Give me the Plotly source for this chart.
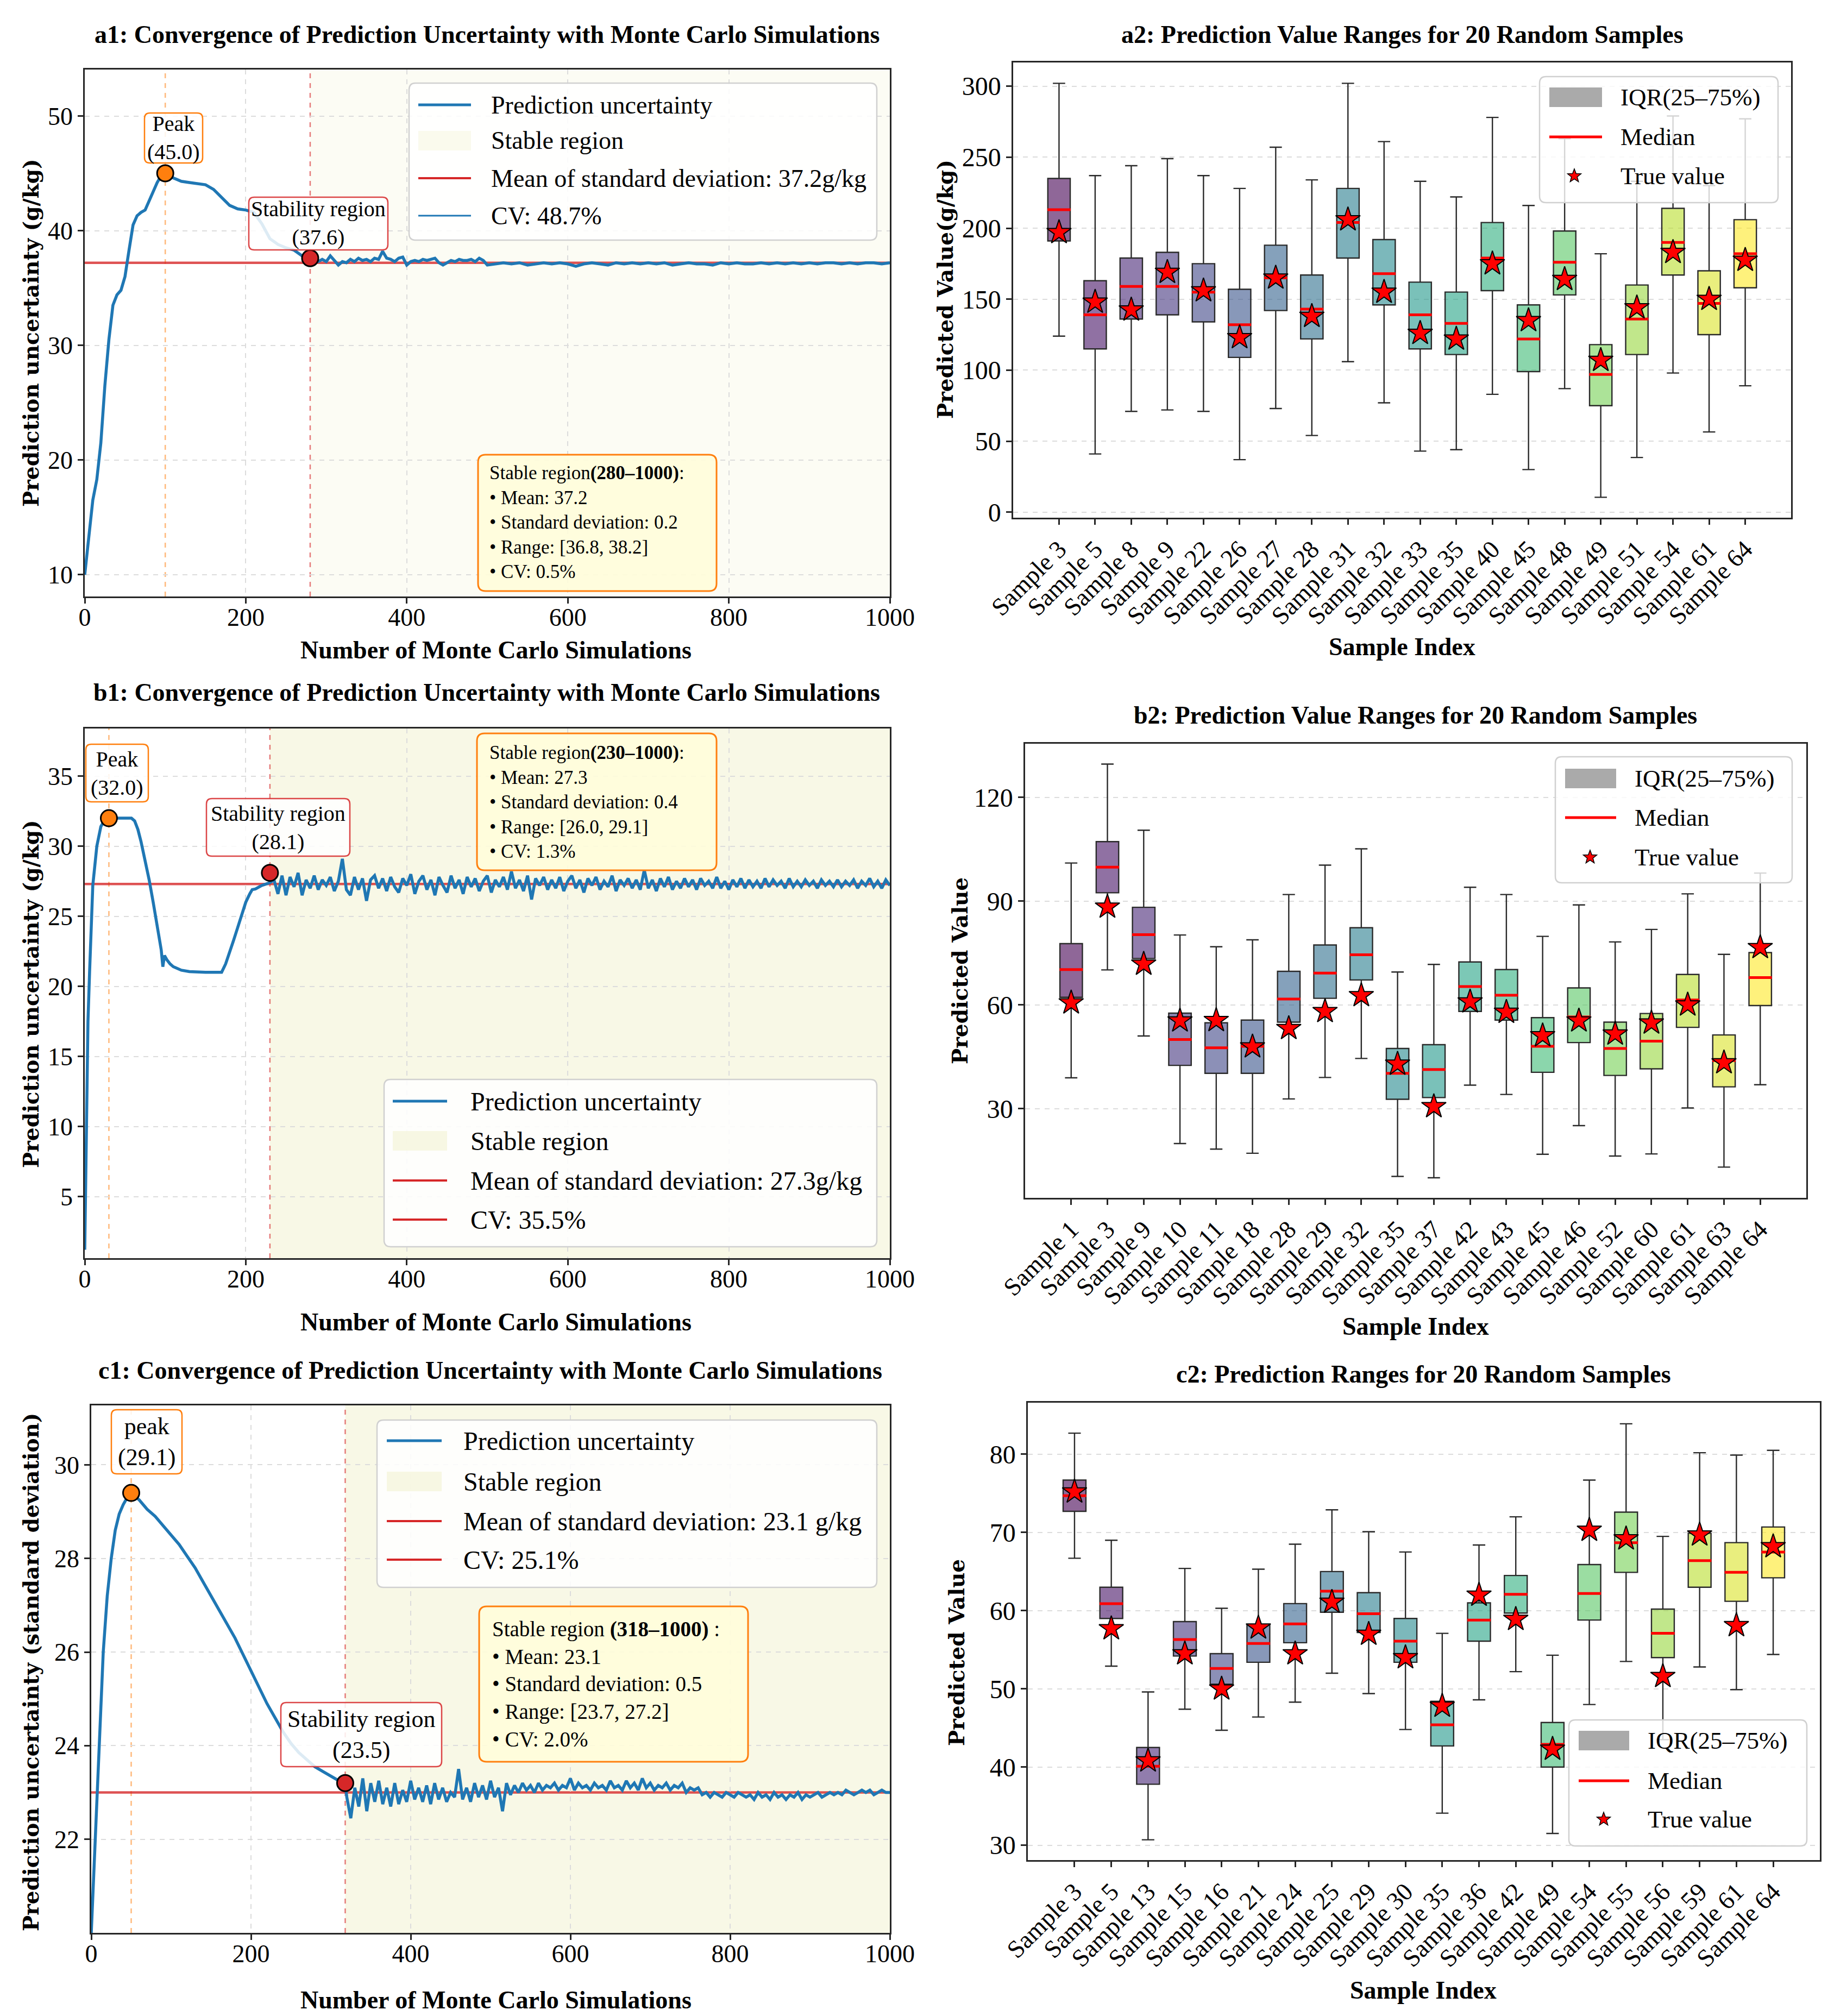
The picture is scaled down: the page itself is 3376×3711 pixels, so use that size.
import numpy as np
import plotly.graph_objects as go
from plotly.colors import sample_colorscale

W, H = 3376, 3711
SERIF = "Liberation Serif"
LABEL = "DejaVu Serif"
BLUE, RED, ORANGE = "#1f77b4", "#d62728", "#ff7f0e"

# ---------------- a1: convergence ----------------
a1_rise_sims = [0, 5, 10, 15, 20, 25, 30, 35, 40, 45, 50, 55, 60, 65, 70, 75, 80, 85, 90, 95,
                100, 110, 120, 130, 140, 150, 160, 170, 180, 190, 200, 210, 220, 230, 240, 250,
                260, 270, 280]
a1_rise_unc = [10.0, 13.5, 16.5, 18.3, 21.5, 26.5, 30.5, 33.5, 34.4, 34.8,
               36.0, 38.3, 40.5, 41.3, 41.6, 41.8, 42.6, 43.4, 44.2, 44.8,
               45.0, 44.6, 44.3, 44.2, 44.1, 44.0, 43.6, 42.9, 42.2, 41.9,
               41.8, 41.6, 40.6, 39.3, 38.8, 38.5, 38.3, 37.8, 37.6]
# every 5 simulations from 285
a1_tail_fine = [37.4, 37.3, 37.5, 37.3, 37.8, 37.4, 37.0, 37.3, 37.2, 37.5,
                37.3, 37.6, 37.4, 37.5, 37.3, 37.6, 37.5, 38.2, 37.6, 37.5,
                37.3, 37.6, 37.7, 37.0, 37.3, 37.4, 37.3, 37.5, 37.4, 37.5,
                37.6, 37.2, 37.0, 37.2, 37.4, 37.3, 37.5, 37.4, 37.4, 37.5,
                37.3, 37.6, 37.4]
# every 10 simulations from 500
a1_tail_coarse = [37.0, 37.1, 37.2, 37.1, 37.2, 37.0, 37.1, 37.2, 37.1, 37.2,
                  37.1, 36.9, 37.1, 37.2, 37.1, 37.0, 37.2, 37.1, 37.2, 37.1,
                  37.2, 37.1, 37.2, 37.0, 37.1, 37.2, 37.1, 37.1, 37.0, 37.2,
                  37.1, 37.2, 37.1, 37.1, 37.2, 37.1, 37.2, 37.1, 37.2, 37.1,
                  37.2, 37.1, 37.2, 37.2, 37.1, 37.2, 37.1, 37.2, 37.2, 37.1, 37.2]
a1_peak = (100, 45.0)
a1_stable = (280, 37.6)
a1_mean = 37.2

# ---------------- b1: convergence ----------------
b1_rise_sims = [0, 2, 4, 6, 8, 10, 15, 20, 25, 30, 40, 50, 58, 62, 66, 70, 75, 80, 85, 90,
                95, 97, 99, 102, 106, 110, 115, 120, 130, 140, 150, 160, 170, 175, 180, 185,
                190, 195, 200, 205, 208, 212, 216, 220, 225, 230]
b1_rise_unc = [1.2, 11.4, 17.5, 21.0, 25.0, 27.2, 30.0, 31.4, 31.9, 32.0,
               32.0, 32.0, 32.0, 31.8, 31.2, 30.3, 29.0, 27.6, 26.0, 24.4,
               22.6, 21.4, 22.2, 21.9, 21.6, 21.4, 21.25, 21.15, 21.05, 21.0,
               21.0, 21.0, 21.0, 21.6, 22.4, 23.3, 24.2, 25.1, 26.0, 26.6,
               26.9, 26.95, 27.1, 27.2, 27.3, 27.4]
# every 5 simulations from 235
b1_tail = [27.6, 26.6, 27.9, 26.5, 27.8, 27.1, 28.1, 26.5, 27.6, 27.0,
           27.9, 26.9, 27.6, 27.2, 27.8, 26.8, 27.5, 29.1, 26.9, 26.5,
           27.8, 26.9, 27.7, 26.1, 27.6, 27.9, 27.0, 27.7, 26.8, 27.8,
           27.1, 26.7, 27.7, 27.2, 28.0, 26.6, 27.5, 27.9, 26.9, 27.6,
           26.5, 27.8, 27.2, 26.7, 27.9, 27.0, 27.6, 26.6, 27.8, 27.1,
           27.7, 26.8, 27.5, 27.9, 26.7, 27.6, 27.1, 27.8, 26.9, 28.2,
           27.0, 27.6, 26.8, 27.9, 26.2, 27.7, 27.2, 27.8, 26.9, 27.6,
           27.0, 27.8, 26.8, 27.5, 27.9, 27.0, 27.6, 26.7, 27.7, 27.2,
           27.8, 26.9, 27.5, 27.1, 27.9, 26.8, 27.6, 27.2, 27.7, 27.0,
           27.6, 26.9, 28.3, 27.0, 27.6, 26.8, 27.7, 27.1, 27.8, 26.9,
           27.5, 27.0, 27.7, 27.1, 27.6, 26.9, 27.7, 27.2, 27.5, 27.0,
           27.8, 27.0, 27.5, 26.9, 27.6, 27.1, 27.7, 27.0, 27.6, 27.1,
           27.5, 27.0, 27.7, 27.1, 27.6, 27.2, 27.5, 27.0, 27.7, 27.1,
           27.5, 27.1, 27.6, 27.2, 27.5, 27.0, 27.6, 27.2, 27.5, 27.1,
           27.6, 27.1, 27.5, 27.2, 27.6, 27.0, 27.5, 27.2, 27.7, 27.1,
           27.5, 27.0, 27.6, 27.2]
b1_peak = (30, 32.0)
b1_stable = (230, 28.1)
b1_mean = 27.3

# ---------------- c1: convergence ----------------
c1_rise_sims = [0, 5, 10, 15, 20, 25, 30, 35, 40, 45, 50, 60, 70, 80, 90, 100, 110, 120, 130,
                140, 150, 160, 170, 180, 190, 200, 210, 220, 230, 240, 250, 260, 270, 280,
                290, 300, 310, 318]
c1_rise_unc = [20.0, 22.0, 24.2, 26.0, 27.2, 28.0, 28.6, 28.95, 29.15, 29.3, 29.4,
               29.25, 29.05, 28.9, 28.7, 28.5, 28.3, 28.05, 27.8, 27.5, 27.2,
               26.9, 26.6, 26.3, 25.95, 25.6, 25.25, 24.9, 24.6, 24.3, 24.05,
               23.85, 23.7, 23.55, 23.45, 23.35, 23.25, 23.2]
# every 5 simulations from 320
c1_tail = [22.9, 22.45, 23.1, 22.7, 23.3, 22.6, 23.2, 22.8, 23.25, 22.75,
           23.1, 22.7, 23.2, 22.75, 23.05, 22.8, 23.25, 22.85, 23.1, 22.8,
           23.15, 22.75, 23.2, 22.85, 23.1, 22.8, 23.0, 22.9, 23.5, 22.85,
           23.1, 22.8, 23.2, 22.9, 23.15, 22.85, 23.25, 22.9, 23.1, 22.6,
           23.2, 22.95, 23.15, 23.0, 23.2, 23.05, 23.15, 23.0, 23.2, 23.05,
           23.15, 23.1, 23.2, 23.05, 23.15, 23.1, 23.3, 23.05, 23.2, 23.1,
           23.15, 23.05, 23.2, 23.1, 23.15, 23.05, 23.25, 23.1, 23.15, 23.05,
           23.25, 23.1, 23.2, 23.05, 23.3, 23.1, 23.2, 23.05, 23.15, 23.1,
           23.2, 23.05, 23.15, 23.1, 23.2, 23.0, 23.1, 23.05, 23.1, 22.95,
           23.0, 22.9, 23.0, 22.95, 22.9, 23.0, 22.95, 22.9, 23.0, 22.95,
           22.9, 22.95, 22.85, 23.0, 22.9, 22.95, 22.85, 23.0, 22.9, 22.95,
           22.85, 22.95, 22.9, 23.0, 22.85, 22.95, 22.9, 22.95, 23.0, 22.9,
           22.95, 23.0, 22.95, 23.0, 22.95, 23.05, 23.0, 22.95, 23.0, 23.05,
           23.0, 23.05, 22.95, 23.0, 23.05, 23.0, 23.0]
c1_peak = (50, 29.4)
c1_stable = (318, 23.2)
c1_mean = 23.0

# ---------------- a2: box summary ----------------
a2_samples = [3, 5, 8, 9, 22, 26, 27, 28, 31, 32, 33, 35, 40, 45, 48, 49, 51, 54, 61, 64]
a2_lower = [124, 41, 71, 72, 71, 37, 73, 54, 106, 77, 43, 44, 83, 30, 87, 10.5, 38.5, 98, 56.5, 89]
a2_q1 = [191, 115, 136, 139, 134, 109, 142, 122, 179, 146, 115, 111, 156, 99, 153, 75, 111, 167, 125, 158]
a2_median = [213, 139, 159, 159, 155, 132, 165, 143, 204, 168, 139, 133, 179, 122, 176, 97, 136, 190, 147, 182]
a2_q3 = [235, 163, 179, 183, 175, 157, 188, 167, 228, 192, 162, 155, 204, 146, 198, 118, 160, 214, 170, 206]
a2_upper = [302, 237, 244, 249, 237, 228, 257, 234, 302, 261, 233, 222, 278, 216, 263, 182, 233, 279, 230, 277]
a2_true = [197, 148, 142.5, 169, 156, 123, 165, 138, 206, 155, 126, 122, 175, 135, 164, 107, 144, 183, 150, 177.5]

# ---------------- b2: box summary ----------------
b2_samples = [1, 3, 9, 10, 11, 18, 28, 29, 32, 35, 37, 42, 43, 45, 46, 52, 60, 61, 63, 64]
b2_lower = [38.9, 70.1, 51.0, 19.9, 18.3, 17.1, 32.8, 39.0, 44.5, 10.4, 10.0, 36.8, 34.1, 16.8, 25.1, 16.3, 16.9, 30.2, 13.1, 36.9]
b2_q1 = [62.2, 92.4, 73.4, 42.5, 40.2, 40.2, 55.0, 61.9, 67.2, 32.7, 33.2, 58.1, 55.6, 40.5, 49.1, 39.6, 41.5, 53.5, 36.3, 59.8]
b2_median = [70.2, 99.8, 80.3, 50.0, 47.6, 48.0, 61.7, 69.2, 74.5, 40.2, 41.3, 65.3, 62.8, 48.0, 56.5, 47.4, 49.5, 61.4, 43.9, 67.9]
b2_q3 = [77.7, 107.2, 88.2, 57.6, 54.8, 55.6, 69.7, 77.3, 82.3, 47.4, 48.5, 72.4, 70.2, 56.3, 64.9, 55.0, 57.5, 68.8, 51.3, 75.1]
b2_upper = [101.0, 129.6, 110.5, 80.2, 76.8, 78.8, 91.9, 100.4, 105.1, 69.5, 71.7, 94.0, 91.9, 79.8, 88.9, 78.2, 81.8, 92.1, 74.6, 98.1]
b2_true = [60.6, 88.3, 71.8, 55.4, 55.5, 47.9, 53.2, 58.1, 62.7, 42.9, 30.6, 60.9, 57.9, 51.1, 55.4, 51.6, 54.8, 60.0, 43.3, 76.6]

# ---------------- c2: box summary ----------------
c2_samples = [3, 5, 13, 15, 16, 21, 24, 25, 29, 30, 35, 36, 42, 49, 54, 55, 56, 59, 61, 64]
c2_lower = [66.7, 52.9, 30.7, 47.4, 44.7, 46.4, 48.3, 52.0, 49.4, 44.8, 34.1, 48.6, 52.2, 31.5, 48.0, 53.5, 43.5, 52.8, 49.9, 54.4]
c2_q1 = [72.7, 59.0, 37.8, 54.2, 50.6, 53.4, 55.9, 59.8, 57.2, 53.4, 42.7, 56.1, 59.7, 40.0, 58.8, 64.9, 54.0, 63.0, 61.2, 64.2]
c2_median = [74.7, 60.9, 40.1, 56.3, 52.6, 55.8, 58.3, 62.5, 59.6, 56.1, 45.4, 58.8, 62.1, 42.9, 62.2, 68.7, 57.1, 66.4, 64.9, 67.5]
c2_q3 = [76.7, 63.0, 42.5, 58.6, 54.5, 58.2, 60.9, 65.0, 62.3, 59.0, 48.4, 61.0, 64.5, 45.7, 65.9, 72.6, 60.2, 69.9, 68.7, 70.7]
c2_upper = [82.7, 69.0, 49.6, 65.4, 60.3, 65.3, 68.5, 72.9, 70.1, 67.5, 57.1, 68.4, 72.0, 54.3, 76.7, 83.9, 69.5, 80.2, 79.9, 80.5]
c2_true = [75.2, 57.7, 40.8, 54.5, 50.0, 57.8, 54.5, 61.1, 57.0, 54.0, 47.8, 62.0, 58.9, 42.3, 70.3, 69.2, 51.6, 69.7, 58.1, 68.2]

fig = go.Figure()
shapes, annotations = [], []


def ref(a, n):
    return a if n == 1 else f"{a}{n}"


def P(x, y):
    return f"{x / W:.5f},{1 - y / H:.5f}"


def rbox(x0, y0, x1, y1, r, fill, line, lw):
    d = (f"M{P(x0 + r, y0)} L{P(x1 - r, y0)} Q{P(x1, y0)} {P(x1, y0 + r)} "
         f"L{P(x1, y1 - r)} Q{P(x1, y1)} {P(x1 - r, y1)} L{P(x0 + r, y1)} "
         f"Q{P(x0, y1)} {P(x0, y1 - r)} L{P(x0, y0 + r)} Q{P(x0, y0)} {P(x0 + r, y0)} Z")
    shapes.append(dict(type="path", xref="paper", yref="paper", path=d, fillcolor=fill,
                       line=dict(color=line, width=lw), layer="above"))


def text(x, y, s, size, family=SERIF, xanchor="center", angle=0, align="center"):
    annotations.append(dict(x=x / W, y=1 - y / H, xref="paper", yref="paper", text=s,
                            showarrow=False, xanchor=xanchor, yanchor="middle",
                            textangle=angle, align=align,
                            font=dict(family=family, size=size, color="black")))


def lg_line(x0, x1, y, color, width):
    shapes.append(dict(type="line", xref="paper", yref="paper", x0=x0 / W, x1=x1 / W,
                       y0=1 - y / H, y1=1 - y / H, line=dict(color=color, width=width),
                       layer="above"))


def lg_patch(x0, x1, y, h, color):
    shapes.append(dict(type="rect", xref="paper", yref="paper", x0=x0 / W, x1=x1 / W,
                       y0=1 - (y + h / 2) / H, y1=1 - (y - h / 2) / H, fillcolor=color,
                       line=dict(width=0), layer="above"))


def lg_star(cx, cy, R):
    pts = []
    for k in range(10):
        a = -np.pi / 2 + k * np.pi / 5
        rr = R if k % 2 == 0 else R * 0.42
        pts.append(P(cx + rr * np.cos(a), cy + rr * np.sin(a)))
    shapes.append(dict(type="path", xref="paper", yref="paper",
                       path="M" + " L".join(pts) + " Z", fillcolor="red",
                       line=dict(color="black", width=1.5), layer="above"))


def axis(px0, px1, rng, anchor, tickvals, grid=True, size=46, **kw):
    d = dict(domain=[px0, px1], range=rng, anchor=anchor, tickvals=tickvals,
             automargin=False, showline=True, mirror=True, linecolor="#262626",
             linewidth=2.5, ticks="outside", ticklen=10, tickwidth=2.5,
             tickcolor="#262626", showgrid=grid, gridcolor="#dcdcdc", griddash="dash",
             gridwidth=1.6, zeroline=False,
             tickfont=dict(family=SERIF, size=size, color="black"))
    d.update(kw)
    return d


def line_panel(n, sims, unc, peak, stab, mean, shade):
    xr, yr = ref("x", n), ref("y", n)
    shapes.append(dict(type="rect", xref=xr, yref=yr + " domain", x0=stab[0], x1=1000,
                       y0=0, y1=1, fillcolor=shade, line=dict(width=0), layer="below"))
    shapes.append(dict(type="line", xref=xr, yref=yr + " domain", x0=peak[0], x1=peak[0],
                       y0=0, y1=1, line=dict(color="rgba(255,127,14,0.55)", width=2.5,
                                             dash="dash"), layer="below"))
    shapes.append(dict(type="line", xref=xr, yref=yr + " domain", x0=stab[0], x1=stab[0],
                       y0=0, y1=1, line=dict(color="rgba(214,39,40,0.6)", width=2.5,
                                             dash="dash"), layer="below"))
    shapes.append(dict(type="line", xref=xr + " domain", yref=yr, x0=0, x1=1, y0=mean,
                       y1=mean, line=dict(color="rgba(214,39,40,0.8)", width=4.5),
                       layer="below"))
    fig.add_trace(go.Scatter(x=sims, y=unc, mode="lines", line=dict(color=BLUE, width=5.5),
                             xaxis=xr, yaxis=yr, hoverinfo="skip"))
    for pt, col in ((peak, ORANGE), (stab, RED)):
        fig.add_trace(go.Scatter(x=[pt[0]], y=[pt[1]], mode="markers", xaxis=xr, yaxis=yr,
                                 marker=dict(size=30, color=col,
                                             line=dict(color="black", width=3))))


def box_panel(n, lower, q1, med, q3, upper, true):
    xr, yr = ref("x", n), ref("y", n)
    cols = sample_colorscale("Viridis", list(np.linspace(0, 1, len(med))))
    for i in range(len(med)):
        fill = cols[i].replace("rgb(", "rgba(").replace(")", ",0.6)")
        fig.add_trace(go.Box(x=[i], q1=[q1[i]], median=[med[i]], q3=[q3[i]],
                             lowerfence=[lower[i]], upperfence=[upper[i]],
                             fillcolor=fill, line=dict(color="#2a2a2a", width=2.4),
                             width=0.62, whiskerwidth=0.55, boxpoints=False,
                             xaxis=xr, yaxis=yr, hoverinfo="skip"))
    mx, my = [], []
    for i, m in enumerate(med):
        mx += [i - 0.32, i + 0.32, None]
        my += [m, m, None]
    fig.add_trace(go.Scatter(x=mx, y=my, mode="lines", line=dict(color="red", width=5),
                             xaxis=xr, yaxis=yr, hoverinfo="skip"))
    fig.add_trace(go.Scatter(x=list(range(len(true))), y=true, mode="markers",
                             xaxis=xr, yaxis=yr,
                             marker=dict(symbol="star", size=34, color="red",
                                         line=dict(color="black", width=2))))


a1_sims = a1_rise_sims + list(range(285, 500, 5)) + list(range(500, 1001, 10))
a1_unc = a1_rise_unc + a1_tail_fine + a1_tail_coarse
b1_sims = b1_rise_sims + list(range(235, 1001, 5))
b1_unc = b1_rise_unc + b1_tail
c1_sims = c1_rise_sims + list(range(320, 1001, 5))
c1_unc = c1_rise_unc + c1_tail

line_panel(1, a1_sims, a1_unc, a1_peak, a1_stable, a1_mean, "rgba(245,245,220,0.3)")
box_panel(2, a2_lower, a2_q1, a2_median, a2_q3, a2_upper, a2_true)
line_panel(3, b1_sims, b1_unc, b1_peak, b1_stable, b1_mean, "rgba(245,245,220,0.7)")
box_panel(4, b2_lower, b2_q1, b2_median, b2_q3, b2_upper, b2_true)
line_panel(5, c1_sims, c1_unc, c1_peak, c1_stable, c1_mean, "rgba(245,245,220,0.7)")
box_panel(6, c2_lower, c2_q1, c2_median, c2_q3, c2_upper, c2_true)

sims_ticks = [0, 200, 400, 600, 800, 1000]
box_range = [-1.27, 20.27]


def dx(a, b):
    return a / W, b / W


def dy(top, bottom):
    return 1 - bottom / H, 1 - top / H


layout_axes = {}
# left column
for n, (top, bot), left, yr, yt in [
        (1, (120, 1090), 148, [8.1, 54.05], [10, 20, 30, 40, 50]),
        (3, (1333, 2308), 148, [0.6, 38.4], [5, 10, 15, 20, 25, 30, 35]),
        (5, (2579, 3550), 160, [20.0, 31.27], [22, 24, 26, 28, 30])]:
    x0, x1 = dx(left, 1630)
    y0, y1 = dy(top, bot)
    layout_axes[ref("xaxis", n)] = axis(x0, x1, [0, 1000], ref("y", n), sims_ticks,
                                        ticklabelstandoff=-14)
    layout_axes[ref("yaxis", n)] = axis(y0, y1, yr, ref("x", n), yt)

# right column
for n, (top, bot), (left, right), yr, yt, samples in [
        (2, (107, 945), (1857, 3289), [-3.9, 316.7], [0, 50, 100, 150, 200, 250, 300], a2_samples),
        (4, (1361, 2197), (1879, 3317), [4.2, 135.5], [30, 60, 90, 120], b2_samples),
        (6, (2574, 3416), (1884, 3342), [28.1, 86.6], [30, 40, 50, 60, 70, 80], c2_samples)]:
    x0, x1 = dx(left, right)
    y0, y1 = dy(top, bot)
    layout_axes["xaxis%d" % n] = axis(x0, x1, box_range, "y%d" % n, list(range(20)),
                                      grid=False, size=46,
                                      ticktext=[f"Sample {s}" for s in samples],
                                      tickangle=-45)
    layout_axes["yaxis%d" % n] = axis(y0, y1, yr, "x%d" % n, yt, size=48)

# titles and axis labels
for x, y, s in [(888, 55, "a1: Convergence of Prediction Uncertainty with Monte Carlo Simulations"),
                (2573, 55, "a2: Prediction Value Ranges for 20 Random Samples"),
                (888, 1266, "b1: Convergence of Prediction Uncertainty with Monte Carlo Simulations"),
                (2597, 1308, "b2: Prediction Value Ranges for 20 Random Samples"),
                (894, 2514, "c1: Convergence of Prediction Uncertainty with Monte Carlo Simulations"),
                (2612, 2521, "c2: Prediction Ranges for 20 Random Samples"),
                (905, 1188, "Number of Monte Carlo Simulations"),
                (2573, 1182, "Sample Index"),
                (905, 2425, "Number of Monte Carlo Simulations"),
                (2598, 2433, "Sample Index"),
                (905, 3673, "Number of Monte Carlo Simulations"),
                (2612, 3655, "Sample Index")]:
    text(x, y, f"<b>{s}</b>", 46)

for x, y, s in [(49, 605, "Prediction uncertainty (g/kg)"),
                (1732, 525, "Predicted Value(g/kg)"),
                (49, 1822, "Prediction uncertainty (g/kg)"),
                (1759, 1779, "Predicted Value"),
                (49, 3070, "Prediction uncertainty (standard deviation)"),
                (1753, 3034, "Predicted Value")]:
    text(x, y, f"<b>{s}</b>", 39, family=LABEL, angle=-90)

# annotation boxes on the convergence panels
for box, c, s, size in [((258, 200, 365, 292), (311, 246), "Peak<br>(45.0)", 40),
                        ((450, 355, 706, 452), (578, 403), "Stability region<br>(37.6)", 40),
                        ((150, 1362, 265, 1468), (207, 1415), "Peak<br>(32.0)", 40),
                        ((372, 1462, 636, 1568), (504, 1515), "Stability region<br>(28.1)", 40),
                        ((197, 2587, 327, 2705), (262, 2646), "peak<br>(29.1)", 44),
                        ((509, 3126, 805, 3244), (657, 3185), "Stability region<br>(23.5)", 44)]:
    border = ORANGE if s.lower().startswith("peak") else "rgba(214,39,40,0.85)"
    rbox(*box, 10, "rgba(255,255,255,0.85)", border, 2.5)
    text(c[0], c[1], s, size)

for box, left, cy, s, size in [
        ((872, 829, 1311, 1080), 891, 954,
         "Stable region<b>(280–1000)</b>:<br>• Mean: 37.2<br>• Standard deviation: 0.2"
         "<br>• Range: [36.8, 38.2]<br>• CV: 0.5%", 35),
        ((870, 1342, 1311, 1594), 891, 1468,
         "Stable region<b>(230–1000)</b>:<br>• Mean: 27.3<br>• Standard deviation: 0.4"
         "<br>• Range: [26.0, 29.1]<br>• CV: 1.3%", 35),
        ((874, 2949, 1369, 3235), 896, 3092,
         "Stable region <b>(318–1000)</b> :<br>• Mean: 23.1<br>• Standard deviation: 0.5"
         "<br>• Range: [23.7, 27.2]<br>• CV: 2.0%", 39)]:
    rbox(*box, 14, "rgba(255,253,218,0.9)", ORANGE, 3)
    text(left, cy, s, size, xanchor="left", align="left")

# legends of the convergence panels
for frame, ys, hx, tx, size, items in [
        ((745, 145, 1606, 434), (185, 251, 320, 389), (762, 859), 894, 46,
         [("line", BLUE, 5, "Prediction uncertainty"),
          ("patch", "rgba(245,245,220,0.5)", 0, "Stable region"),
          ("line", RED, 4, "Mean of standard deviation: 37.2g/kg"),
          ("line", BLUE, 3, "CV: 48.7%")]),
        ((699, 1979, 1606, 2287), (2019, 2092, 2165, 2237), (715, 815), 856, 48,
         [("line", BLUE, 5, "Prediction uncertainty"),
          ("patch", "rgba(245,245,220,0.8)", 0, "Stable region"),
          ("line", RED, 4, "Mean of standard deviation: 27.3g/kg"),
          ("line", RED, 4, "CV: 35.5%")]),
        ((686, 2606, 1606, 2914), (2644, 2719, 2792, 2863), (704, 805), 843, 48,
         [("line", BLUE, 5, "Prediction uncertainty"),
          ("patch", "rgba(245,245,220,0.8)", 0, "Stable region"),
          ("line", RED, 4, "Mean of standard deviation: 23.1 g/kg"),
          ("line", RED, 4, "CV: 25.1%")])]:
    rbox(*frame, 12, "rgba(255,255,255,0.85)", "#d0d0d0", 2.5)
    for y, (kind, col, w, label) in zip(ys, items):
        if kind == "line":
            lg_line(hx[0], hx[1], y, col, w)
        else:
            lg_patch(hx[0], hx[1], y, 36, col)
        text(tx, y, label, size, xanchor="left")

# legends of the box panels
for frame, ys, hx, tx, sx in [((2826, 133, 3265, 365), (171, 244, 316), (2844, 2941), 2973, 2890),
                              ((2855, 1385, 3291, 1617), (1425, 1497, 1570), (2873, 2967), 2999, 2919),
                              ((2880, 3158, 3318, 3390), (3196, 3270, 3341), (2898, 2991), 3023, 2944)]:
    rbox(*frame, 12, "rgba(255,255,255,0.8)", "#d0d0d0", 2.5)
    lg_patch(hx[0], hx[1], ys[0], 36, "#aaaaaa")
    lg_line(hx[0], hx[1], ys[1], "red", 5)
    lg_star(sx, ys[2], 13)
    text(tx, ys[0], "IQR(25–75%)", 45, xanchor="left")
    text(tx, ys[1], "Median", 45, xanchor="left")
    text(tx, ys[2], "True value", 45, xanchor="left")

fig.update_layout(width=W, height=H, margin=dict(l=0, r=0, t=0, b=0),
                  paper_bgcolor="white", plot_bgcolor="white", showlegend=False,
                  boxmode="overlay", shapes=shapes, annotations=annotations,
                  font=dict(family=SERIF, color="black"), **layout_axes)

fig.write_html("out.html")
